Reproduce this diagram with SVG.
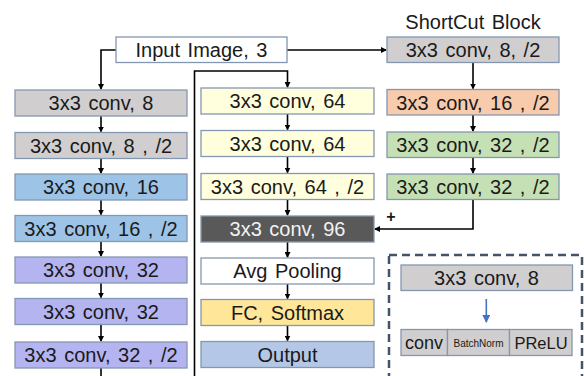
<svg xmlns="http://www.w3.org/2000/svg" width="584" height="376" viewBox="0 0 584 376">
  <style>
    .box { stroke: #8497B0; stroke-width: 1.3; }
    .t { font-family: "Liberation Sans", Arial, sans-serif; font-size: 20px; word-spacing: 2px; fill: #1a1a1a; text-anchor: middle; }
    .line { fill: none; stroke: #000; stroke-width: 1.6; }
    .gray { fill: #D0CECE; }
    .blue { fill: #9DC3E6; }
    .purple { fill: #B4B4F0; }
    .cream { fill: #FFFFDE; }
    .orange { fill: #F8CBAD; }
    .green { fill: #C5E0B4; }
    .dark { fill: #595959; }
    .white { fill: #FFFFFF; }
    .gold { fill: #FFE699; }
    .steel { fill: #B4C7E7; }
  </style>
  <defs>
    <marker id="arr" markerWidth="6" markerHeight="6" refX="5" refY="3" orient="auto" markerUnits="userSpaceOnUse">
      <path d="M0,0 L6,3 L0,6 Z" fill="#000"/>
    </marker>
    <marker id="arrBlue" markerWidth="8" markerHeight="8" refX="7" refY="4" orient="auto" markerUnits="userSpaceOnUse">
      <path d="M0,0 L8,4 L0,8 Z" fill="#4472C4"/>
    </marker>
  </defs>

  <rect width="584" height="376" fill="#FFFFFF"/>

  <!-- connectors -->
  <g id="connectors">
    <!-- input to left column -->
    <path class="line" d="M116,50 H101 V89" marker-end="url(#arr)"/>
    <!-- input to shortcut block -->
    <path class="line" d="M287,50 H386" marker-end="url(#arr)"/>
    <!-- left column -->
    <path class="line" d="M101,116 V131.5" marker-end="url(#arr)"/>
    <path class="line" d="M101,158.5 V173" marker-end="url(#arr)"/>
    <path class="line" d="M101,200 V214.5" marker-end="url(#arr)"/>
    <path class="line" d="M101,241.5 V256" marker-end="url(#arr)"/>
    <path class="line" d="M101,283 V297.5" marker-end="url(#arr)"/>
    <path class="line" d="M101,324.5 V341" marker-end="url(#arr)"/>
    <path class="line" d="M101,368 V376"/>
    <!-- return path into middle column -->
    <path class="line" d="M194.5,376 V71 H287.5 V87" marker-end="url(#arr)"/>
    <!-- middle column -->
    <path class="line" d="M287.5,114 V129.5" marker-end="url(#arr)"/>
    <path class="line" d="M287.5,156.5 V172.5" marker-end="url(#arr)"/>
    <path class="line" d="M287.5,199.5 V215" marker-end="url(#arr)"/>
    <path class="line" d="M287.5,242 V257" marker-end="url(#arr)"/>
    <path class="line" d="M287.5,284 V298.5" marker-end="url(#arr)"/>
    <path class="line" d="M287.5,325.5 V340.5" marker-end="url(#arr)"/>
    <!-- shortcut column -->
    <path class="line" d="M473,62.5 V88.5" marker-end="url(#arr)"/>
    <path class="line" d="M473,115 V131" marker-end="url(#arr)"/>
    <path class="line" d="M473,157.5 V173" marker-end="url(#arr)"/>
    <path class="line" d="M473,199.5 V229 H375" marker-end="url(#arr)"/>
  </g>

  <g id="input">
    <rect class="box white" x="116" y="37" width="171" height="25.5"/>
    <text class="t" x="201.5" y="57">Input Image, 3</text>
  </g>

  <!-- left column -->
  <g id="l1"><rect class="box gray" x="15" y="90" width="172" height="26"/><text class="t" x="101" y="110">3x3 conv, 8</text></g>
  <g id="l2"><rect class="box gray" x="15" y="132.5" width="172" height="26"/><text class="t" x="101" y="152.5">3x3 conv, 8 , /2</text></g>
  <g id="l3"><rect class="box blue" x="15" y="174" width="172" height="26"/><text class="t" x="101" y="194">3x3 conv, 16</text></g>
  <g id="l4"><rect class="box blue" x="15" y="215.5" width="172" height="26"/><text class="t" x="101" y="235.5">3x3 conv, 16 , /2</text></g>
  <g id="l5"><rect class="box purple" x="15" y="257" width="172" height="26"/><text class="t" x="101" y="277">3x3 conv, 32</text></g>
  <g id="l6"><rect class="box purple" x="15" y="298.5" width="172" height="26"/><text class="t" x="101" y="318.5">3x3 conv, 32</text></g>
  <g id="l7"><rect class="box purple" x="15" y="342" width="172" height="26"/><text class="t" x="101" y="362">3x3 conv, 32 , /2</text></g>

  <!-- middle column -->
  <g id="m1"><rect class="box cream" x="201" y="88" width="173" height="26"/><text class="t" x="287.5" y="108">3x3 conv, 64</text></g>
  <g id="m2"><rect class="box cream" x="201" y="130.5" width="173" height="26"/><text class="t" x="287.5" y="150.5">3x3 conv, 64</text></g>
  <g id="m3"><rect class="box cream" x="201" y="173.5" width="173" height="26"/><text class="t" x="287.5" y="193.5">3x3 conv, 64 , /2</text></g>
  <g id="m4"><rect class="box dark" x="201" y="216" width="173" height="26"/><text class="t" x="287.5" y="236" style="fill:#F2F2F2">3x3 conv, 96</text></g>
  <g id="m5"><rect class="box white" x="201" y="258" width="173" height="26"/><text class="t" x="287.5" y="278">Avg Pooling</text></g>
  <g id="m6"><rect class="box gold" x="201" y="299.5" width="173" height="26"/><text class="t" x="287.5" y="319.5">FC, Softmax</text></g>
  <g id="m7"><rect class="box steel" x="201" y="341.5" width="173" height="26"/><text class="t" x="287.5" y="361.5">Output</text></g>

  <!-- shortcut block -->
  <g id="shortcut">
    <text class="t" x="473" y="29">ShortCut Block</text>
    <g id="s1"><rect class="box gray" x="387" y="37" width="172" height="25.5"/><text class="t" x="473" y="57">3x3 conv, 8, /2</text></g>
    <g id="s2"><rect class="box orange" x="387" y="89.5" width="172" height="25.5"/><text class="t" x="473" y="109.5">3x3 conv, 16 , /2</text></g>
    <g id="s3"><rect class="box green" x="387" y="132" width="172" height="25.5"/><text class="t" x="473" y="152">3x3 conv, 32 , /2</text></g>
    <g id="s4"><rect class="box green" x="387" y="174" width="172" height="25.5"/><text class="t" x="473" y="194">3x3 conv, 32 , /2</text></g>
    <text class="t" x="391" y="222" style="font-size:16px;font-weight:bold">+</text>
  </g>

  <!-- legend: composition of a conv block -->
  <g id="legend">
    <rect x="389" y="255" width="193" height="130" fill="none" stroke="#44546A" stroke-width="2.5" stroke-dasharray="8,5"/>
    <rect class="box gray" x="401" y="265" width="171.5" height="25.5"/>
    <text class="t" x="486.5" y="284.5">3x3 conv, 8</text>
    <path d="M486.3,299 V322" stroke="#4472C4" stroke-width="1.6" fill="none" marker-end="url(#arrBlue)"/>
    <rect class="box gray" x="401" y="329.5" width="46.5" height="26"/>
    <rect class="box gray" x="447.5" y="329.5" width="62" height="26"/>
    <rect class="box gray" x="509.5" y="329.5" width="62.5" height="26"/>
    <text class="t" x="424" y="349" style="font-size:18px">conv</text>
    <text class="t" x="478.5" y="346.5" style="font-size:10px">BatchNorm</text>
    <text class="t" x="541" y="349" style="font-size:16.5px">PReLU</text>
  </g>
</svg>
